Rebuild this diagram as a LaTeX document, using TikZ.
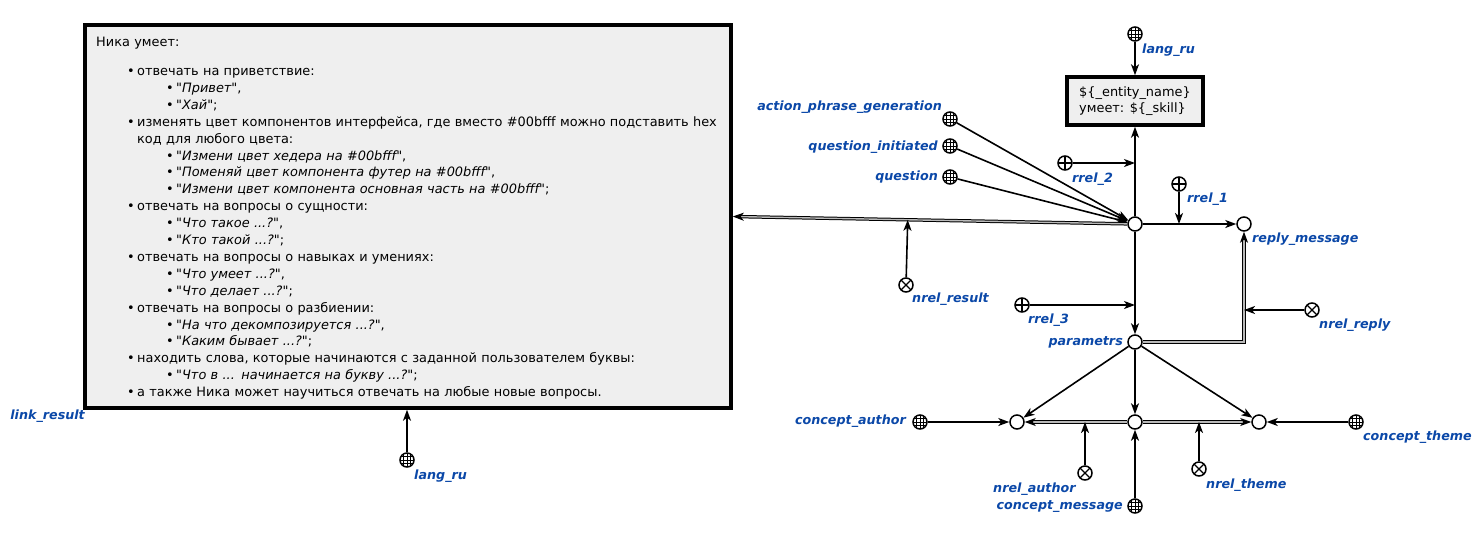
\documentclass[tikz,border=0pt]{standalone}
\usepackage{fontspec}
\setmainfont{DejaVu Sans}[Ligatures=TeXOff]
\usetikzlibrary{arrows.meta}
\usetikzlibrary{calc}
\usetikzlibrary{positioning}
\usetikzlibrary{decorations.markings}

\definecolor{scblue}{HTML}{0B48A8}
\definecolor{boxgray}{HTML}{EFEFEF}

% list lines of the big box
\newcommand{\lone}[1]{\hspace*{31pt}\makebox[10pt][l]{•}#1}
\newcommand{\ltwo}[1]{\hspace*{70pt}\makebox[10pt][l]{•}#1}
\newcommand{\lcont}[1]{\hspace*{41pt}#1}

\begin{document}
\begin{tikzpicture}[x=1pt, y=-1pt, every node/.style={inner sep=1pt},
		var/.style={circle, draw, line width=1.5pt, minimum size=14pt, inner sep=0pt, fill=white},
		cls/.style={var, path picture={
			\foreach \d in {-3.5,0,3.5} {
				\draw[line width=0.8pt] ([shift={(\d pt,-8pt)}]path picture bounding box.center) -- ([shift={(\d pt,8pt)}]path picture bounding box.center);
				\draw[line width=0.8pt] ([shift={(-8pt,\d pt)}]path picture bounding box.center) -- ([shift={(8pt,\d pt)}]path picture bounding box.center);
			}}},
		rrel/.style={var, path picture={
			\draw[line width=1.2pt] ([xshift=-8pt]path picture bounding box.center) -- ([xshift=8pt]path picture bounding box.center);
			\draw[line width=1.2pt] ([yshift=-8pt]path picture bounding box.center) -- ([yshift=8pt]path picture bounding box.center);}},
		nrel/.style={var, path picture={
			\draw[line width=1.2pt] ([shift={(45:8pt)}]path picture bounding box.center) -- ([shift={(225:8pt)}]path picture bounding box.center);
			\draw[line width=1.2pt] ([shift={(135:8pt)}]path picture bounding box.center) -- ([shift={(315:8pt)}]path picture bounding box.center);}},
		lbl/.style={text=scblue, font=\fontsize{12.7}{14}\selectfont\bfseries\itshape, inner sep=0pt},
		box/.style={draw, line width=3.5pt, fill=boxgray, inner sep=0pt},
		conn/.style={line width=1.6pt, -{Stealth[length=11pt, width=8pt, inset=3pt]}},
		comconn/.style={preaction={draw, double=gray!55, double distance=1.4pt, line width=1pt, shorten >=6pt},
			postaction={decorate, decoration={markings, mark=at position 1 with
				{\arrow[line width=1pt]{Stealth[length=11pt, width=8pt, inset=3pt]}}}}}]
		\useasboundingbox (0,0) rectangle (1484,539);

		% Result text
		\node[box, minimum width=646pt, minimum height=383pt] (result) at (408,216.5) {};
		\node[anchor=north west, text width=625pt, align=left, inner sep=0pt,
			font=\fontsize{12.9}{16.9}\selectfont] (skills) at (96,37) {%
			Ника умеет:\\[12pt]
			\lone{отвечать на приветствие:}\\
			\ltwo{\textit{"Привет"},}\\
			\ltwo{\textit{"Хай"};}\\
			\lone{изменять цвет компонентов интерфейса, где вместо \#00bfff можно подставить hex}\\
			\lcont{код для любого цвета:}\\
			\ltwo{\textit{"Измени цвет хедера на \#00bfff"},}\\
			\ltwo{\textit{"Поменяй цвет компонента футер на \#00bfff"},}\\
			\ltwo{\textit{"Измени цвет компонента основная часть на \#00bfff"};}\\
			\lone{отвечать на вопросы о сущности:}\\
			\ltwo{\textit{"Что такое ...?"},}\\
			\ltwo{\textit{"Кто такой ...?"};}\\
			\lone{отвечать на вопросы о навыках и умениях:}\\
			\ltwo{\textit{"Что умеет ...?"},}\\
			\ltwo{\textit{"Что делает ...?"};}\\
			\lone{отвечать на вопросы о разбиении:}\\
			\ltwo{\textit{"На что декомпозируется ...?"},}\\
			\ltwo{\textit{"Каким бывает ...?"};}\\
			\lone{находить слова, которые начинаются с заданной пользователем буквы:}\\
			\ltwo{\textit{"Что в ... начинается на букву ...?"};}\\
			\lone{а также Ника может научиться отвечать на любые новые вопросы.}};
		\node[lbl, anchor=base east] (resultlbl) at (85,419) {link\_result};
		\node[cls] (langbot) at (407,460) {};
		\node[lbl, anchor=base west] (langbotlbl) at (414,479) {lang\_ru};

		% Template
		\node[box, minimum width=136pt, minimum height=48pt, align=left,
			font=\fontsize{12.9}{16}\selectfont] (tmpl) at (1135,101) {\$\{\_entity\_name\}\\умеет: \$\{\_skill\}};
		\node[cls] (langtop) at (1135,34) {};
		\node[lbl, anchor=base west] (langtoplbl) at (1142,53) {lang\_ru};

		% Action and its classes
		\node[var] (main) at (1135,224) {};
		\node[cls] (apg) at (950,119) {};
		\node[cls] (qinit) at (950,146) {};
		\node[cls] (quest) at (950,177) {};
		\node[lbl, anchor=base east] (apglbl) at (942,110) {action\_phrase\_generation};
		\node[lbl, anchor=base east] (qinitlbl) at (938,150) {question\_initiated};
		\node[lbl, anchor=base east] (questlbl) at (938,180) {question};

		% Arguments
		\node[var] (reply) at (1244,224) {};
		\node[var] (params) at (1135,342) {};
		\node[rrel] (rrel1) at (1179,184) {};
		\node[rrel] (rrel2) at (1065,163) {};
		\node[rrel] (rrel3) at (1022,305) {};
		\node[nrel] (nresult) at (906,285) {};
		\node[nrel] (nreply) at (1312,310) {};
		\node[lbl, anchor=base west] (rrel1lbl) at (1187,202) {rrel\_1};
		\node[lbl, anchor=base west] (rrel2lbl) at (1072,182) {rrel\_2};
		\node[lbl, anchor=base west] (rrel3lbl) at (1028,323) {rrel\_3};
		\node[lbl, anchor=base west] (nresultlbl) at (912,302) {nrel\_result};
		\node[lbl, anchor=base west] (nreplylbl) at (1319,328) {nrel\_reply};
		\node[lbl, anchor=base west] (replylbl) at (1252,242) {reply\_message};
		\node[lbl, anchor=base east] (paramslbl) at (1123,345) {parametrs};

		% Parameters
		\node[var] (author) at (1017,422) {};
		\node[var] (msg) at (1135,422) {};
		\node[var] (theme) at (1259,422) {};
		\node[cls] (cauthor) at (920,422) {};
		\node[cls] (ctheme) at (1356,422) {};
		\node[cls] (cmsg) at (1135,506) {};
		\node[nrel] (nauthor) at (1085,473) {};
		\node[nrel] (ntheme) at (1199,469) {};
		\node[lbl, anchor=base east] (cauthorlbl) at (906,424) {concept\_author};
		\node[lbl, anchor=base west] (cthemelbl) at (1363,440) {concept\_theme};
		\node[lbl, anchor=base east] (cmsglbl) at (1123,509) {concept\_message};
		\node[lbl, anchor=base west] (nauthorlbl) at (993,492) {nrel\_author};
		\node[lbl, anchor=base west] (nthemelbl) at (1206,488) {nrel\_theme};

		% Edges
		\draw[conn] (langtop) -- (tmpl);
		\draw[conn] (langbot) -- (langbot |- result.south);
		\draw[conn] (main) -- (tmpl);
		\draw[conn] (rrel2) -- (main |- rrel2);
		\draw[conn] (apg) -- (main);
		\draw[conn] (qinit) -- (main);
		\draw[conn] (quest) -- (main);
		\draw[conn] (main) -- (reply);
		\draw[conn] (rrel1) -- (rrel1 |- main);
		\path[comconn] (main) -- (result.east);
		\draw[conn] (nresult) -- ($(main)!0.565!(result.east)$);
		\draw[conn] (main) -- (params);
		\draw[conn] (rrel3) -- (main |- rrel3);
		\path[comconn] (params) -| (reply);
		\draw[conn] (nreply) -- (reply |- nreply);
		\draw[conn] (params) -- (author);
		\draw[conn] (params) -- (msg);
		\draw[conn] (params) -- (theme);
		\draw[conn] (cauthor) -- (author);
		\draw[conn] (ctheme) -- (theme);
		\draw[conn] (cmsg) -- (msg);
		\path[comconn] (msg) -- (author);
		\path[comconn] (msg) -- (theme);
		\draw[conn] (nauthor) -- (nauthor |- msg);
		\draw[conn] (ntheme) -- (ntheme |- msg);
	\end{tikzpicture}
\end{document}
